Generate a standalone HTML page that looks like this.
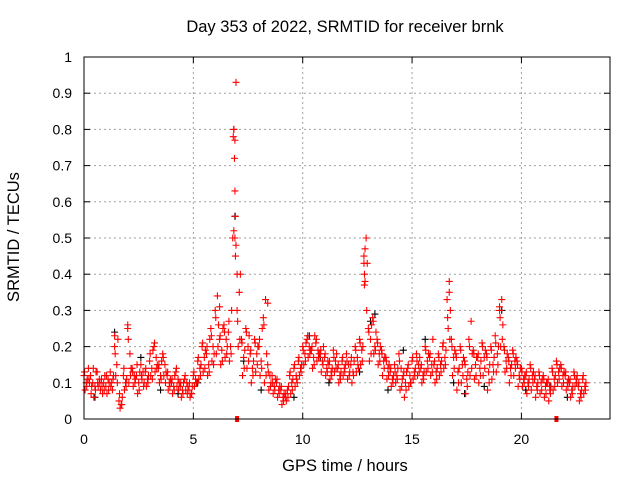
<!DOCTYPE html>
<html><head><meta charset="utf-8"><style>
html,body{margin:0;padding:0;background:#fff;}
svg{display:block;font-family:"Liberation Sans",sans-serif;}
</style></head><body>
<svg id="chart" width="640" height="480">
<text x="345" y="32" font-size="16.5" text-anchor="middle">Day 353 of 2022, SRMTID for receiver brnk</text>
<text x="345" y="471" font-size="16.5" text-anchor="middle">GPS time / hours</text>
<text transform="translate(19,237) rotate(-90)" font-size="16.5" text-anchor="middle">SRMTID / TECUs</text>
<g id="grid"></g><g id="axes"></g><g id="marks"></g>
<rect x="84" y="57" width="526" height="362" fill="none" stroke="#000" stroke-width="1"/>
</svg>
<script>
const xTicks=[0,5,10,15,20];
const yTicks=[0,0.1,0.2,0.3,0.4,0.5,0.6,0.7,0.8,0.9,1];
const yLabels=["0","0.1","0.2","0.3","0.4","0.5","0.6","0.7","0.8","0.9","1"];
const seriesA=[.12,.14,.10,.13,.11,.09,.13,.20,.05,.12,.26,.14,.12,.15,.13,.16,.20,.14,.18,.12,.10,.13,.09,.11,.08,.12,.16,.20,.18,.25,.30,.22,.26,.24,.50,.30,.22,.25,.18,.22,.20,.28,.15,.12,.10,.08,.06,.12,.14,.16,.20,.22,.19,.21,.18,.17,.15,.19,.14,.16,.18,.15,.20,.22,.45,.25,.28,.22,.19,.17,.13,.15,.18,.12,.14,.16,.18,.14,.20,.17,.15,.18,.20,.33,.22,.18,.20,.16,.22,.19,.17,.21,.18,.20,.23,.30,.20,.17,.19,.16,.14,.12,.15,.11,.13,.12,.10,.14,.16,.15,.12,.10,.13,.09,.11];
const seriesB=[.08,.10,.06,.09,.07,.07,.10,.12,.03,.08,.10,.09,.07,.11,.09,.12,.13,.10,.12,.08,.07,.09,.06,.08,.06,.09,.11,.13,.12,.16,.18,.15,.17,.16,.80,.20,.12,.14,.10,.13,.12,.10,.08,.07,.06,.04,.05,.07,.09,.12,.15,.17,.14,.16,.13,.12,.11,.13,.10,.12,.11,.10,.13,.15,.38,.16,.18,.15,.12,.11,.09,.10,.08,.06,.09,.11,.12,.10,.13,.12,.10,.12,.14,.25,.12,.08,.10,.07,.12,.11,.10,.12,.08,.11,.13,.20,.13,.10,.12,.09,.09,.07,.08,.06,.07,.06,.05,.08,.10,.09,.08,.06,.09,.05,.07];
const seriesC=[.10,.12,.09,.11,.10,.11,.08,.15,.04,.10,.18,.12,.10,.13,.11,.14,.17,.12,.15,.10,.09,.11,.08,.10,.07,.11,.14,.17,.15,.20,.34,.19,.22,.20,.63,.35,.17,.20,.14,.18,.16,.33,.12,.09,.08,.06,.08,.10,.12,.14,.18,.20,.17,.19,.16,.14,.13,.16,.12,.14,.15,.13,.17,.19,.50,.22,.20,.18,.16,.14,.11,.12,.14,.10,.12,.13,.15,.12,.16,.15,.13,.15,.17,.38,.17,.13,.15,.11,.27,.15,.14,.17,.13,.15,.18,.33,.16,.14,.16,.12,.11,.10,.12,.09,.10,.09,.08,.11,.13,.12,.10,.08,.11,.07,.09];
const seriesD=[.11,.09,.13,.08,.12,.10,.12,.22,.06,.11,.14,.11,.13,.10,.12,.19,.15,.16,.13,.11,.12,.10,.10,.09,.09,.10,.15,.19,.22,.18,.26,.25,.20,.30,.93,.40,.19,.23,.16,.20,.25,.18,.10,.11,.09,.07,.09,.11,.10,.15,.21,.19,.23,.18,.20,.16,.14,.18,.13,.15,.13,.16,.14,.20,.43,.26,.24,.20,.17,.15,.12,.14,.11,.13,.10,.14,.17,.13,.18,.22,.14,.16,.19,.30,.19,.14,.17,.13,.18,.17,.16,.19,.15,.17,.20,.26,.18,.15,.17,.14,.12,.11,.13,.10,.11,.10,.09,.12,.14,.13,.11,.09,.12,.08,.10];
const seriesE=[.13,.11,.14,.10,.09,.12,.09,.18,.07,.14,.22,.13,.15,.12,.14,.18,.21,.15,.17,.13,.11,.14,.10,.12,.10,.13,.17,.21,.20,.23,.28,.23,.24,.27,.78,.27,.21,.24,.19,.21,.22,.26,.13,.10,.11,.09,.07,.13,.15,.17,.19,.23,.20,.22,.19,.18,.16,.17,.15,.17,.16,.17,.19,.21,.40,.24,.27,.21,.18,.16,.14,.13,.16,.13,.15,.17,.16,.15,.19,.18,.16,.17,.21,.28,.20,.17,.19,.15,.20,.18,.18,.20,.17,.19,.21,.28,.19,.16,.18,.15,.13,.13,.14,.12,.12,.11,.11,.13,.15,.14,.13,.11,.12,.10,.12];
const seriesF=[.09,.07,.08,.10,.08,.08,.11,.10,.04,.09,.12,.10,.08,.09,.10,.11,.14,.11,.10,.09,.08,.08,.07,.07,.07,.10,.12,.14,.13,.15,.20,.16,.18,.18,.45,.22,.14,.16,.12,.15,.14,.12,.09,.08,.07,.05,.06,.08,.11,.13,.16,.18,.15,.17,.15,.13,.12,.14,.11,.13,.12,.12,.15,.16,.30,.18,.19,.16,.14,.12,.10,.11,.09,.08,.10,.12,.13,.11,.14,.13,.11,.13,.15,.22,.14,.10,.12,.09,.14,.12,.12,.14,.10,.13,.15,.22,.14,.12,.14,.11,.10,.09,.10,.08,.08,.07,.07,.09,.11,.10,.09,.07,.10,.06,.08];
const spikeTimes=[6.85,6.9,6.88,6.85,6.9,6.95,6.92,7.0,12.85,12.8,12.82,16.7,19.0,6.2,8.4,2.0,1.4];
const spikeValues=[.80,.77,.72,.52,.50,.48,.56,.40,.47,.43,.37,.35,.31,.31,.32,.25,.23];
const blackTimes=[0.5,1.4,2.6,3.5,4.3,5.2,6.9,7.3,8.1,9.6,10.3,11.2,12.6,13.3,13.9,14.6,15.6,16.9,17.4,18.3,19.1,20.2,21.3,22.1,10.8,13.1];
const blackValues=[.06,.24,.17,.08,.07,.10,.56,.16,.08,.06,.23,.10,.13,.29,.08,.19,.22,.10,.07,.09,.30,.08,.09,.06,.17,.27];
const markerTimes=[7.0,21.6];

const X0=84,X1=610,Y0=419,Y1=57;
function xs(t){return X0+t*(X1-X0)/24.05;}
function ys(v){return Y0-v*(Y0-Y1);}
const NS="http://www.w3.org/2000/svg";
const grid=document.getElementById('grid'),axes=document.getElementById('axes'),marks=document.getElementById('marks');
function mk(tag,attrs,parent){const e=document.createElementNS(NS,tag);for(const k in attrs)e.setAttribute(k,attrs[k]);parent.appendChild(e);return e;}
yTicks.forEach((v,i)=>{
  const y=ys(v);
  if(i>0&&i<yTicks.length-1){const g=mk('line',{x1:X0,x2:X1,y1:y,y2:y,stroke:'#a0a0a0','stroke-dasharray':'2,3'},grid);
  
  }
  mk('line',{x1:X0,x2:X0+6,y1:y,y2:y,stroke:'#000'},axes);
  mk('line',{x1:X1,x2:X1-6,y1:y,y2:y,stroke:'#000'},axes);
  const t=mk('text',{x:X0-12,y:y+5,'font-size':14,'text-anchor':'end'},axes);
  t.textContent=yLabels[i];
  
  
});
xTicks.forEach(v=>{
  const x=xs(v);
  if(v>0){const g=mk('line',{x1:x,x2:x,y1:Y0,y2:Y1,stroke:'#a0a0a0','stroke-dasharray':'2,3'},grid);
  
  }
  mk('line',{x1:x,x2:x,y1:Y0,y2:Y0-6,stroke:'#000'},axes);
  mk('line',{x1:x,x2:x,y1:Y1,y2:Y1+6,stroke:'#000'},axes);
  const t=mk('text',{x:x,y:Y0+25,'font-size':14,'text-anchor':'middle'},axes);
  t.textContent=String(v);
  
  
});
function plus(t,v,col,name){
  const x=xs(t),y=ys(v);
  const p=mk('path',{d:`M${x-3.5},${y}h7M${x},${y-3.5}v7`,stroke:col,'stroke-width':1.1,fill:'none'},marks);
  
  
}
blackTimes.forEach((t,i)=>plus(t,blackValues[i],'#000','black-point'));
[[seriesA,0],[seriesB,0.05],[seriesC,0.1],[seriesD,0.15],[seriesE,0.025],[seriesF,0.125]].forEach(([s,off])=>{
  s.forEach((v,i)=>plus(i*0.2+off,v,'#ff0000','srmtid-point'));
});
spikeTimes.forEach((t,i)=>plus(t,spikeValues[i],'#ff0000','spike-point'));
markerTimes.forEach(t=>{
  const r=mk('rect',{x:xs(t)-2,y:Y0-3,width:4,height:6,fill:'#ff0000'},marks);
  
  
});
</script>
</body></html>
